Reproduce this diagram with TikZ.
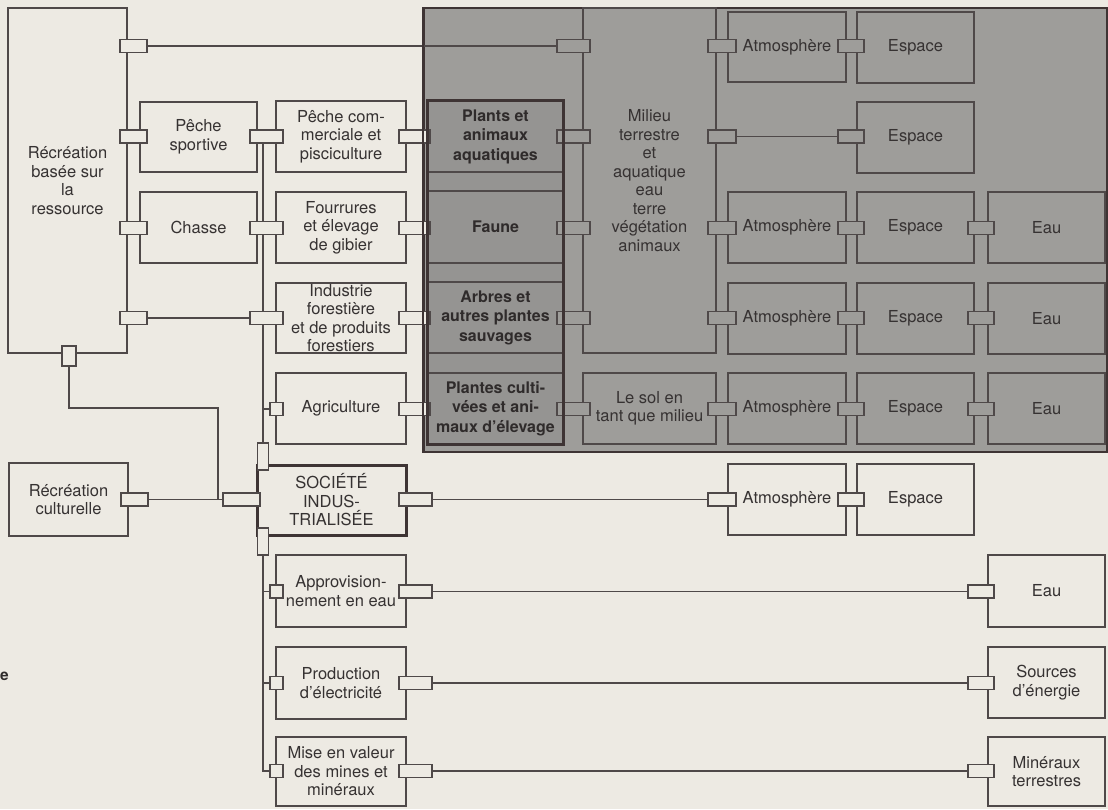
\documentclass[tikz,border=0pt]{standalone}
\usepackage{fontspec}
\setmainfont{TeX Gyre Heros}
\definecolor{paper}{HTML}{EDEAE3}
\definecolor{greyzone}{HTML}{9E9D9A}
\definecolor{darkcol}{HTML}{959492}
\definecolor{linec}{HTML}{4F4949}
\definecolor{heavyc}{HTML}{3E3434}
\definecolor{txt}{HTML}{363232}
\definecolor{dtxt}{HTML}{2F2B2B}

\pgfdeclarelayer{front}
\pgfsetlayers{main,front}

% a rectangular node given by its corners (x1,y1) and (x2,y2)
\newcommand\boxat[7][]{\node[#1, minimum width={#5-#3}, minimum height={#6-#4}] (#2) at ({(#3+#5)/2},{(#4+#6)/2}) {#7};}
% a small horizontal link block from x1 to x2, centred on y
\newcommand\link[5][conn]{\node[#1, minimum width={#4-#3}, minimum height=13] (#2) at ({(#3+#4)/2},#5) {};}

\begin{document}
\begin{tikzpicture}[x=1pt,y=-1pt,
  box/.style={draw=linec, line width=1.1pt, inner sep=0pt, align=center, text=txt,
    font=\fontsize{16.5}{18.5}\selectfont},
  pbox/.style={box, fill=paper},
  gbox/.style={box, fill=greyzone},
  dcell/.style={box, fill=darkcol, text=dtxt, font=\bfseries\fontsize{16}{19.5}\selectfont},
  heavybox/.style={pbox, draw=heavyc, line width=3pt},
  conn/.style={draw=linec, line width=1.1pt, fill=paper, inner sep=0pt},
  gconn/.style={conn, fill=greyzone},
  ln/.style={draw=linec, line width=1.1pt},
]
\useasboundingbox (0,0) rectangle (1108,809);
\fill[paper] (0,0) rectangle (1108,809);

% shaded zone of the natural environment
\node[fill=greyzone, draw=heavyc, line width=1.8pt, inner sep=0pt,
  minimum width=683, minimum height=444] (zone) at (765.5,230) {};
\boxat[fill=darkcol, inner sep=0pt]{dcolumn}{428}{101}{563}{444}{}

% left-hand boxes
\boxat[pbox]{recres}{8}{8}{127}{353}{Récréation\\basée sur\\la\\ressource}
\boxat[pbox]{reccult}{9}{463}{128}{536}{Récréation\\culturelle}
\boxat[pbox]{pechesp}{140}{102}{257}{172}{Pêche\\sportive}
\boxat[pbox]{chasse}{140}{192}{257}{263}{Chasse}
\boxat[pbox]{pechecom}{276}{101}{406}{172}{Pêche com-\\merciale et\\pisciculture}
\boxat[pbox]{fourrures}{276}{192}{406}{263}{Fourrures\\et élevage\\de gibier}
\boxat[pbox]{industrie}{276}{283}{406}{353}{Industrie\\forestière\\et de produits\\forestiers}
\boxat[pbox]{agri}{276}{373}{406}{444}{Agriculture}
\boxat[heavybox]{societe}{257}{465}{406}{535}{SOCIÉTÉ\\INDUS-\\TRIALISÉE}
\boxat[pbox]{appro}{276}{555}{406}{627}{Approvision-\\nement en eau}
\boxat[pbox]{prod}{276}{647}{406}{719}{Production\\d’électricité}
\boxat[pbox]{mise}{276}{737}{406}{806}{Mise en valeur\\des mines et\\minéraux}

% resource column
\boxat[dcell]{plants}{428}{101}{563}{172}{Plants et\\animaux\\aquatiques}
\boxat[dcell]{faune}{428}{191}{563}{263}{Faune}
\boxat[dcell]{arbres}{428}{282}{563}{353}{Arbres et\\autres plantes\\sauvages}
\boxat[dcell]{cultivees}{428}{373}{563}{444}{Plantes culti-\\vées et ani-\\maux d’élevage}

% environment boxes
\boxat[gbox]{milieu}{583}{8}{716}{353}{Milieu\\terrestre\\et\\aquatique\\eau\\terre\\végétation\\animaux}
\boxat[gbox]{sol}{583}{373}{716}{444}{Le sol en\\tant que milieu}
\boxat[gbox]{atm0}{728}{12}{846}{82}{Atmosphère}
\boxat[gbox]{atm2}{728}{192}{846}{263}{Atmosphère}
\boxat[gbox]{atm3}{728}{283}{846}{354}{Atmosphère}
\boxat[gbox]{atm4}{728}{373}{846}{444}{Atmosphère}
\boxat[pbox]{atm5}{728}{464}{846}{535}{Atmosphère}
\boxat[gbox]{esp0}{857}{12}{974}{83}{Espace}
\boxat[gbox]{esp1}{857}{102}{974}{173}{Espace}
\boxat[gbox]{esp2}{857}{192}{974}{263}{Espace}
\boxat[gbox]{esp3}{857}{283}{974}{354}{Espace}
\boxat[gbox]{esp4}{857}{373}{974}{444}{Espace}
\boxat[pbox]{esp5}{857}{464}{974}{535}{Espace}
\boxat[gbox]{eau2}{988}{192}{1105}{263}{Eau}
\boxat[gbox]{eau3}{988}{283}{1105}{354}{Eau}
\boxat[gbox]{eau4}{988}{373}{1105}{444}{Eau}
\boxat[pbox]{eau6}{988}{555}{1105}{627}{Eau}
\boxat[pbox]{sources}{988}{647}{1105}{718}{Sources\\d’énergie}
\boxat[pbox]{mineraux}{988}{737}{1105}{806}{Minéraux\\terrestres}

\begin{pgfonlayer}{front}
% link blocks
\link{cA0}{120}{147}{46}
\link[gconn]{cDE0}{557}{590}{46}
\link[gconn]{cEF0}{708}{736}{46}
\link[gconn]{cFG0}{838}{864}{46}

\link{cA1}{120}{147}{136.5}
\link{cBC1}{250}{283}{136.5}
\link{cCD1}{399}{430}{136.5}
\link[gconn]{cDE1}{557}{590}{136.5}
\link[gconn]{cEF1}{708}{736}{136.5}
\link[gconn]{cFG1}{838}{864}{136.5}

\link{cA2}{120}{147}{228}
\link{cBC2}{250}{283}{228}
\link{cCD2}{399}{430}{228}
\link[gconn]{cDE2}{557}{590}{228}
\link[gconn]{cEF2}{708}{736}{228}
\link[gconn]{cFG2}{838}{864}{228}
\link[gconn]{cGH2}{968}{994}{228}

\link{cA3}{120}{147}{318}
\link{cBC3}{250}{283}{318}
\link{cCD3}{399}{430}{318}
\link[gconn]{cDE3}{557}{590}{318}
\link[gconn]{cEF3}{708}{736}{318}
\link[gconn]{cFG3}{838}{864}{318}
\link[gconn]{cGH3}{968}{994}{318}

\link{sq4}{270}{283}{409}
\link{cCD4}{399}{430}{409}
\link[gconn]{cDE4}{557}{590}{409}
\link[gconn]{cEF4}{708}{736}{409}
\link[gconn]{cFG4}{838}{864}{409}
\link[gconn]{cGH4}{968}{994}{409}

\link{cRC}{121}{148}{499.5}
\link{cSL}{223}{260}{499.5}
\link{cSR}{399}{432}{499.5}
\link{cEF5}{708}{736}{499.5}
\link{cFG5}{838}{864}{499.5}

\link{sq6}{270}{283}{591.5}
\link{cR6}{399}{432}{591.5}
\link{cGH6}{968}{994}{591.5}
\link{sq7}{270}{283}{683}
\link{cR7}{399}{432}{683}
\link{cGH7}{968}{994}{683}
\link{sq8}{270}{283}{771}
\link{cR8}{399}{432}{771}
\link{cGH8}{968}{994}{771}

% vertical link blocks
\boxat[conn]{recbot}{62}{346}{76}{366}{}
\boxat[conn]{socT}{257.5}{443}{268.5}{470}{}
\boxat[conn]{socB}{257.5}{528}{268.5}{555}{}

% heavy outlines over the link blocks
\draw[heavyc, line width=1.8pt] (zone.north west) -- (zone.south west);
\draw[heavyc, line width=3pt] (dcolumn.north west) rectangle (dcolumn.south east);
\end{pgfonlayer}

% connecting lines, from block to block
\coordinate (bend) at (218,408);
\draw[ln] (cA0.east) -- (cDE0.west);
\draw[ln] (cEF1.east) -- (cFG1.west);
\draw[ln] (cA3.east) -- (cBC3.west);
\draw[ln] (cRC.east) -- (cSL.west);
\draw[ln] (cSR.east) -- (cEF5.west);
\draw[ln] (cR6.east) -- (cGH6.west);
\draw[ln] (cR7.east) -- (cGH7.west);
\draw[ln] (cR8.east) -- (cGH8.west);
% the vertical bus of the industrial society
\draw[ln] (socT.center |- cBC1.south) -- (socT.north);
\draw[ln] (socT.north |- sq4.west) -- (sq4.west);
\draw[ln] (socB.south) |- (sq8.west);
\draw[ln] (socB.south |- sq6.west) -- (sq6.west);
\draw[ln] (socB.south |- sq7.west) -- (sq7.west);
\draw[ln] (recbot.south) |- (bend) -- (bend |- cSL.west);

% fragment of a caption at the page edge
\node[anchor=base west, inner sep=0pt, text=dtxt, font=\bfseries\fontsize{15.5}{18}\selectfont] (frag) at (0,680) {e};
\end{tikzpicture}
\end{document}
